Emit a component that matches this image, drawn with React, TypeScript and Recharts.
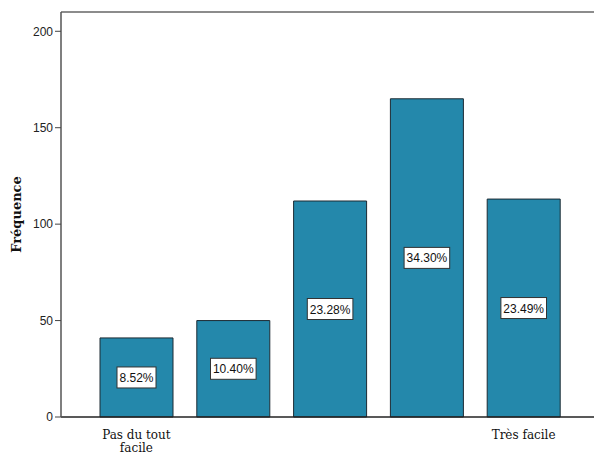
import { BarChart, Bar, XAxis, YAxis, LabelList, ReferenceLine } from 'recharts';

const categories = ['1', '2', '3', '4', '5'];
const frequencies = [41, 50, 112, 165, 113];
const percentLabels = ['8.52%', '10.40%', '23.28%', '34.30%', '23.49%'];
const tickLabels: string[][] = [['Pas du tout', 'facile'], [], [], [], ['Très facile']];
const yTicks = [0, 50, 100, 150, 200];

const data = categories.map((c, i) => ({
  name: c,
  value: frequencies[i],
  pct: percentLabels[i],
}));

function CategoryTick(props: any) {
  const { x, y, index } = props;
  const lines = tickLabels[index] || [];
  return (
    <text
      x={x}
      y={y}
      textAnchor="middle"
      fontFamily="'DejaVu Serif', serif"
      fontSize={12}
      fill="#111"
    >
      {lines.map((l, i) => (
        <tspan key={i} x={x} y={y + 14 + i * 13}>
          {l}
        </tspan>
      ))}
    </text>
  );
}

function PercentBox(props: any) {
  const { x, y, width, height, value } = props;
  const cx = x + width / 2;
  const cy = y + height / 2;
  const w = String(value).length * 6.6 + 6;
  const h = 21;
  return (
    <g>
      <rect x={cx - w / 2} y={cy - h / 2} width={w} height={h} fill="#fff" stroke="#333" strokeWidth={1} />
      <text
        x={cx}
        y={cy + 4.5}
        textAnchor="middle"
        fontFamily="'Liberation Sans', Arial, sans-serif"
        fontSize={12}
        fill="#111"
      >
        {value}
      </text>
    </g>
  );
}

export default function App() {
  return (
    <div style={{ position: 'absolute', left: 0, top: 0, width: 594, height: 455, overflow: 'hidden', background: '#fff' }}>
      <BarChart
        width={600}
        height={455}
        data={data}
        margin={{ top: 12, right: 0, left: 0, bottom: 0 }}
      >
        <XAxis
          dataKey="name"
          height={38}
          padding={{ left: 27, right: 28 }}
          tickLine={false}
          axisLine={{ stroke: '#222', strokeWidth: 1.5 }}
          tick={<CategoryTick />}
          interval={0}
        />
        <YAxis
          width={61}
          domain={[0, 210]}
          ticks={yTicks}
          tickSize={6}
          tickLine={{ stroke: '#444' }}
          axisLine={{ stroke: '#555', strokeWidth: 1.5 }}
          tick={{ fontFamily: "'Liberation Sans', Arial, sans-serif", fontSize: 12, fill: '#222' }}
          label={{
            value: 'Fréquence',
            angle: -90,
            position: 'insideLeft',
            offset: 16,
            style: { fontFamily: "'DejaVu Serif', serif", fontSize: 13, fontWeight: 'bold', fill: '#111', textAnchor: 'middle' },
          }}
        />
        <ReferenceLine y={210} stroke="#666" strokeWidth={1.5} />
        <Bar dataKey="value" barSize={73} fill="#2488AB" stroke="#1c2a33" strokeWidth={1} isAnimationActive={false}>
          <LabelList dataKey="pct" content={<PercentBox />} />
        </Bar>
      </BarChart>
    </div>
  );
}
